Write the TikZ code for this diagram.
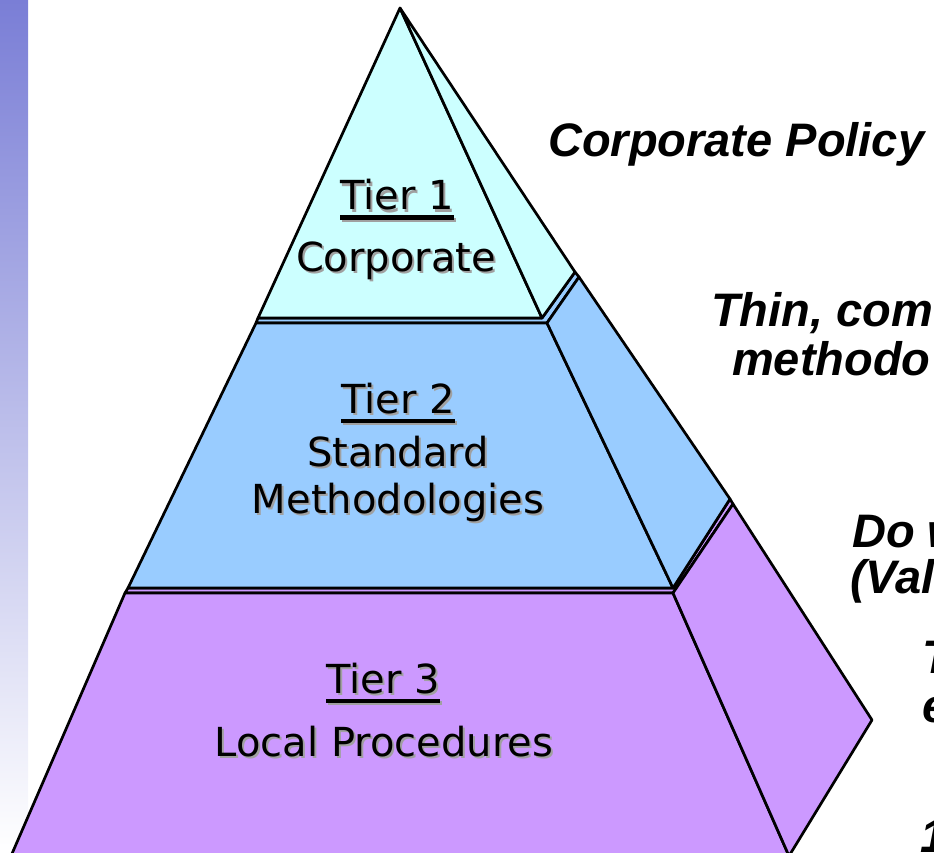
\documentclass[tikz,border=0pt]{standalone}
\usepackage{xcolor}
\usepackage{fontspec}
\setmainfont{DejaVu Sans}
\newfontfamily\notefont{Liberation Sans}
\usepackage{tikz}
\usetikzlibrary{positioning}

\definecolor{tierone}{HTML}{CCFFFF}
\definecolor{tiertwo}{HTML}{99CCFF}
\definecolor{tierthree}{HTML}{CC99FF}
\definecolor{barblue}{HTML}{7A7ED6}
\definecolor{dropgray}{HTML}{A0A0A0}

% grey drop shadow behind a piece of text
\newcommand{\dropped}[1]{\rlap{\hspace{2pt}\raisebox{-2pt}{\textcolor{dropgray}{#1}}}#1}
% heavy underline for the tier headings
\newcommand{\heavyul}[1]{\setbox0\hbox{#1}\rlap{\rule[-10pt]{\wd0}{4.5pt}}\box0}

\tikzset{
	x = 1pt, y = -1pt,
	face/.style = {draw = black, line width = 2.7pt, line join = round},
	tiertext/.style = {inner sep = 0pt, anchor = base,
		font = \fontsize{40}{44}\selectfont},
	note/.style = {inner sep = 0pt, anchor = base west,
		font = \notefont\bfseries\itshape\fontsize{47}{52}\selectfont},
}

\begin{document}
\begin{tikzpicture}
	\useasboundingbox (0,0) rectangle (934,853);
	\clip (0,0) rectangle (934,853);
	% slide bar on the left
	\shade[top color = barblue, bottom color = white] (0,0) rectangle (28,853);

	% ledges between the tiers
	\path[face, fill = tiertwo] (258,318) -- (542,318) -- (575,272) -- (579,277)
		-- (547,323) -- (256,323) -- cycle;
	\path[face, fill = tierthree] (128,588) -- (673,588) -- (730,499) -- (733,504)
		-- (673,593) -- (125,593) -- cycle;

	% tier 1
	\path[face, fill = tierone] (400,8) -- (542,318) -- (258,318) -- cycle;
	\path[face, fill = tierone] (400,8) -- (575,272) -- (542,318) -- cycle;
	% tier 2
	\path[face, fill = tiertwo] (256,323) -- (547,323) -- (673,588) -- (128,588) -- cycle;
	\path[face, fill = tiertwo] (547,323) -- (579,277) -- (730,499) -- (673,588) -- cycle;
	% tier 3
	\path[face, fill = tierthree] (125,593) -- (673,593) -- (789,856) -- (11,856) -- cycle;
	\path[face, fill = tierthree] (673,593) -- (733,504) -- (872,720) -- (789,856) -- cycle;

	% labels on the faces
	\node (t1head) [tiertext] at (397,210) {\dropped{\heavyul{Tier 1}}};
	\node (t1name) [tiertext] at (396,271) {\dropped{Corporate}};
	\node (t2head) [tiertext] at (398,413) {\dropped{\heavyul{Tier 2}}};
	\node (t2top)  [tiertext] at (398,466) {\dropped{Standard}};
	\node (t2bot)  [tiertext] at (398,513) {\dropped{Methodologies}};
	\node (t3head) [tiertext] at (383,693) {\dropped{\heavyul{Tier 3}}};
	\node (t3name) [tiertext] at (384,756) {\dropped{Local Procedures}};

	% notes running off the right edge
	\node (policy) [note] at (548,157) {Corporate Policy};
	\node (thin)   [note] at (711,326) {Thin, com};
	\node (method) [note] at (732,375) {methodo};
	\node (dow)    [note] at (852,547) {Do w};
	\node (val)    [note] at (850,593) {(Val};
	\node (tee)    [note] at (922,673) {T};
	\node (ee)     [note] at (922,722) {e};
	\node (one)    [note] at (920,852) {1};
\end{tikzpicture}
\end{document}
